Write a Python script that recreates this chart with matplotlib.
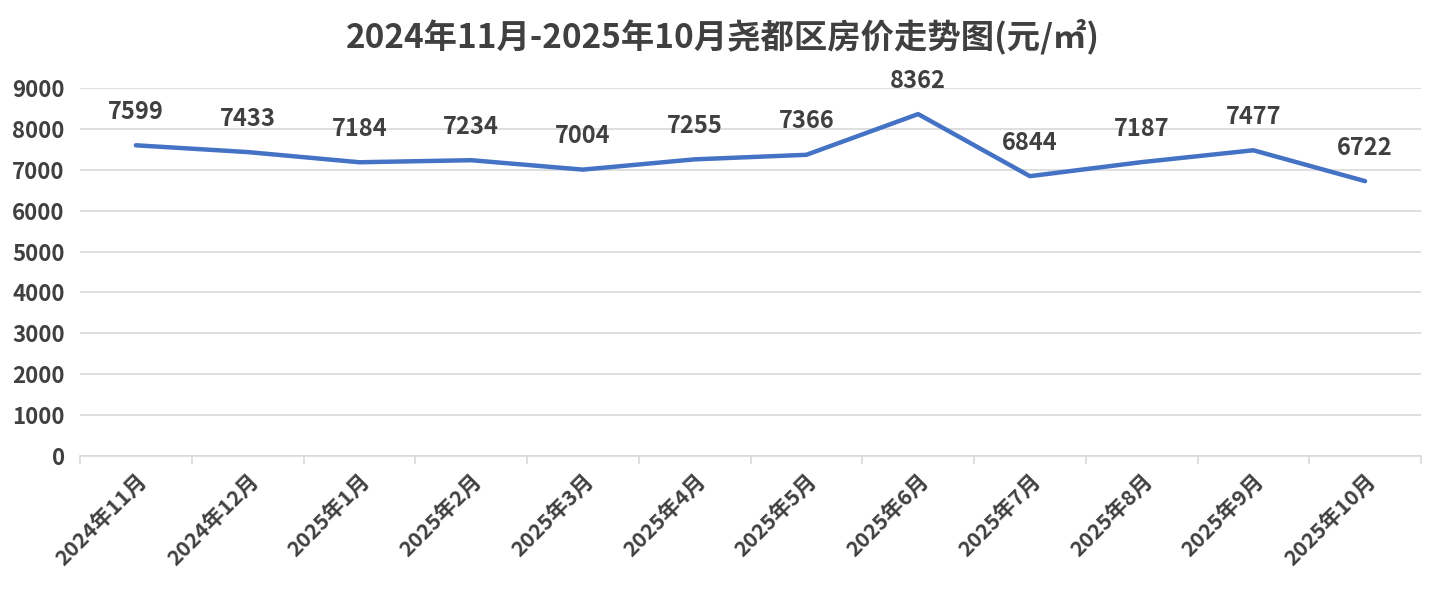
import matplotlib
matplotlib.use("Agg")
import matplotlib.pyplot as plt
import numpy as np

plt.rcParams['font.family'] = ['Noto Sans CJK SC', 'DejaVu Sans']

months = ["2024年11月", "2024年12月", "2025年1月", "2025年2月", "2025年3月", "2025年4月",
          "2025年5月", "2025年6月", "2025年7月", "2025年8月", "2025年9月", "2025年10月"]
prices = [7599, 7433, 7184, 7234, 7004, 7255, 7366, 8362, 6844, 7187, 7477, 6722]
yticks = [0, 1000, 2000, 3000, 4000, 5000, 6000, 7000, 8000, 9000]

txt = "#404040"
fig = plt.figure(figsize=(14.45, 6.05), dpi=100)
ax = fig.add_axes([80/1445, 1-456/605, (1421-80)/1445, (456-88)/605])

x = np.arange(len(months))
ax.plot(x, prices, color="#4472C4", lw=3.2, solid_capstyle="round", zorder=3)
for xi, v in zip(x, prices):
    ax.annotate(str(v), (xi, v), xytext=(0, 24), textcoords="offset points",
                ha="center", va="center", fontsize=17, fontweight="bold", color=txt,
                annotation_clip=False)

ax.set_xlim(-0.5, len(months)-0.5)
ax.set_ylim(0, 9000)
ax.set_yticks(yticks)
ax.yaxis.grid(True, color="#d9d9d9", lw=1.2)
ax.set_axisbelow(True)
for s in ["top", "right", "left"]:
    ax.spines[s].set_visible(False)
ax.spines["bottom"].set_color("#d9d9d9")
ax.spines["bottom"].set_linewidth(1.2)

ax.set_xticks(np.arange(len(months)+1)-0.5, minor=False)
ax.set_xticklabels([])
ax.tick_params(axis="x", which="major", length=6, color="#d9d9d9", width=1.2)
ax.set_xticks(x, minor=True)
ax.set_xticklabels(months, minor=True, rotation=45, ha="right", rotation_mode="anchor",
                   fontsize=15.5, fontweight="bold", color=txt)
ax.tick_params(axis="x", which="minor", length=0, pad=10)
ax.tick_params(axis="y", length=0, pad=11, labelsize=16, labelcolor=txt)
for lab in ax.get_yticklabels():
    lab.set_fontweight("bold")

fig.text(0.5, 1-36/605, "2024年11月-2025年10月尧都区房价走势图(元/㎡)", ha="center", va="center",
         fontsize=24, fontweight="bold", color=txt)

fig.savefig("out.png", dpi=100)
